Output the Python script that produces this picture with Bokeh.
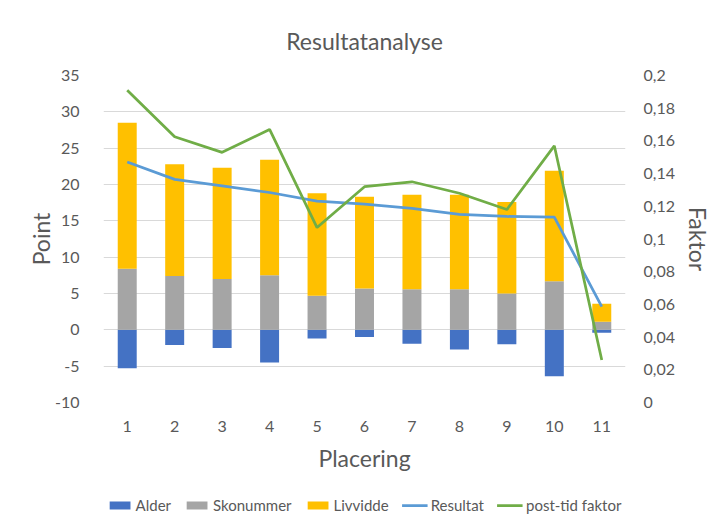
from bokeh.plotting import figure
from bokeh.layouts import column
from bokeh.models import (Range1d, LinearAxis, FixedTicker, CustomJSTickFormatter,
                          Legend, LegendItem, ColumnDataSource)
from bokeh.embed import file_html
from bokeh.resources import INLINE

placering = [1, 2, 3, 4, 5, 6, 7, 8, 9, 10, 11]
alder = [-5.3, -2.1, -2.5, -4.5, -1.2, -1.0, -1.9, -2.7, -2.0, -6.4, -0.4]
skonummer = [8.4, 7.4, 7.0, 7.5, 4.7, 5.7, 5.6, 5.6, 5.0, 6.7, 1.1]
livvidde = [20.1, 15.4, 15.3, 15.9, 14.1, 12.6, 13.0, 13.0, 12.6, 15.2, 2.5]
resultat = [23.1, 20.7, 19.8, 18.9, 17.7, 17.3, 16.7, 15.9, 15.6, 15.5, 3.2]
post_tid_faktor = [0.191, 0.1625, 0.153, 0.167, 0.107, 0.132, 0.135, 0.128, 0.118, 0.157, 0.026]
point_ticks = [-10, -5, 0, 5, 10, 15, 20, 25, 30, 35]
faktor_ticks = [0, 0.02, 0.04, 0.06, 0.08, 0.1, 0.12, 0.14, 0.16, 0.18, 0.2]
series_names = ["Alder", "Skonummer", "Livvidde", "Resultat", "post-tid faktor"]
series_colors = ["#4472C4", "#A5A5A5", "#FFC000", "#5B9BD5", "#70AD47"]

FONT = "Lato"
TXT = "#595959"

src = ColumnDataSource(dict(
    x=placering,
    zero=[0] * len(placering),
    alder=alder,
    sko=skonummer,
    liv_top=[s + l for s, l in zip(skonummer, livvidde)],
    res=resultat,
    ptf=post_tid_faktor,
))

p = figure(width=714, height=492, output_backend="svg", toolbar_location=None,
           x_range=Range1d(0.5, 11.5), y_range=Range1d(-10, 35),
           min_border_left=103, min_border_right=86, min_border_top=75, min_border_bottom=90,
           title="Resultatanalyse")
p.title.align = "center"
p.title.text_font = FONT
p.title.text_font_size = "23px"
p.title.text_font_style = "normal"
p.title.text_color = TXT
p.title.standoff = 41

p.extra_y_ranges = {"f": Range1d(0, 0.2)}

p.outline_line_color = None
p.xgrid.visible = False
p.ygrid.grid_line_color = "#D9D9D9"
p.ygrid.grid_line_width = 1

bw = 0.4
p.vbar(x="x", top="alder", bottom="zero", width=bw, source=src,
       fill_color=series_colors[0], line_color=None)
p.vbar(x="x", top="sko", bottom="zero", width=bw, source=src,
       fill_color=series_colors[1], line_color=None)
p.vbar(x="x", top="liv_top", bottom="sko", width=bw, source=src,
       fill_color=series_colors[2], line_color=None)
p.line(x="x", y="res", source=src, line_color=series_colors[3], line_width=2.75)
p.line(x="x", y="ptf", source=src, line_color=series_colors[4], line_width=2.75,
       y_range_name="f")

def style_axis(ax):
    ax.axis_line_color = None
    ax.major_tick_line_color = None
    ax.minor_tick_line_color = None
    ax.major_label_text_font = FONT
    ax.major_label_text_font_size = "16px"
    ax.major_label_text_color = TXT
    ax.axis_label_text_font = FONT
    ax.axis_label_text_font_size = "23px"
    ax.axis_label_text_font_style = "normal"
    ax.axis_label_text_color = TXT

xa = p.xaxis[0]
style_axis(xa)
xa.ticker = FixedTicker(ticks=placering)
xa.axis_label = "Placering"
xa.major_label_standoff = 12
xa.axis_label_standoff = 9

ya = p.yaxis[0]
style_axis(ya)
ya.ticker = FixedTicker(ticks=point_ticks)
ya.formatter = CustomJSTickFormatter(code="return tick.toString();")
ya.axis_label = "Point"
ya.major_label_standoff = 18
ya.axis_label_standoff = -3

ra = LinearAxis(y_range_name="f", axis_label="Faktor")
style_axis(ra)
ra.ticker = FixedTicker(ticks=faktor_ticks)
ra.formatter = CustomJSTickFormatter(
    code="var s = tick.toFixed(2).replace(/0+$/,'').replace(/\\.$/,''); return s.replace('.', ',');")
ra.major_label_standoff = 12
ra.axis_label_standoff = 6
p.add_layout(ra, "right")

# legend strip: a small plot whose hidden glyphs (same data) supply the legend keys
pl = figure(width=714, height=26, output_backend="svg", toolbar_location=None,
            x_range=Range1d(0.5, 11.5), y_range=Range1d(-10, 35),
            x_axis_type=None, y_axis_type=None,
            min_border_left=0, min_border_right=0, min_border_top=0, min_border_bottom=0)
pl.outline_line_color = None
pl.grid.visible = False
k0 = pl.vbar(x="x", top="alder", bottom="zero", width=bw, source=src,
             fill_color=series_colors[0], line_color=None, visible=False)
k1 = pl.vbar(x="x", top="sko", bottom="zero", width=bw, source=src,
             fill_color=series_colors[1], line_color=None, visible=False)
k2 = pl.vbar(x="x", top="liv_top", bottom="sko", width=bw, source=src,
             fill_color=series_colors[2], line_color=None, visible=False)
k3 = pl.line(x="x", y="res", source=src, line_color=series_colors[3], line_width=2.75,
             visible=False)
k4 = pl.line(x="x", y="res", source=src, line_color=series_colors[4], line_width=2.75,
             visible=False)

legend = Legend(items=[LegendItem(label=n, renderers=[k])
                       for n, k in zip(series_names, [k0, k1, k2, k3, k4])],
                orientation="horizontal", location="center")
legend.label_text_font = FONT
legend.label_text_font_size = "15px"
legend.label_text_color = TXT
legend.glyph_width = 26
legend.glyph_height = 10
legend.spacing = 13
legend.label_standoff = 3
legend.padding = 0
legend.margin = 0
legend.border_line_color = None
legend.background_fill_alpha = 0
legend.inactive_fill_alpha = 0
pl.add_layout(legend, "center")

layout = column(p, pl, spacing=0)
open("out.html", "w").write(file_html(layout, INLINE))
